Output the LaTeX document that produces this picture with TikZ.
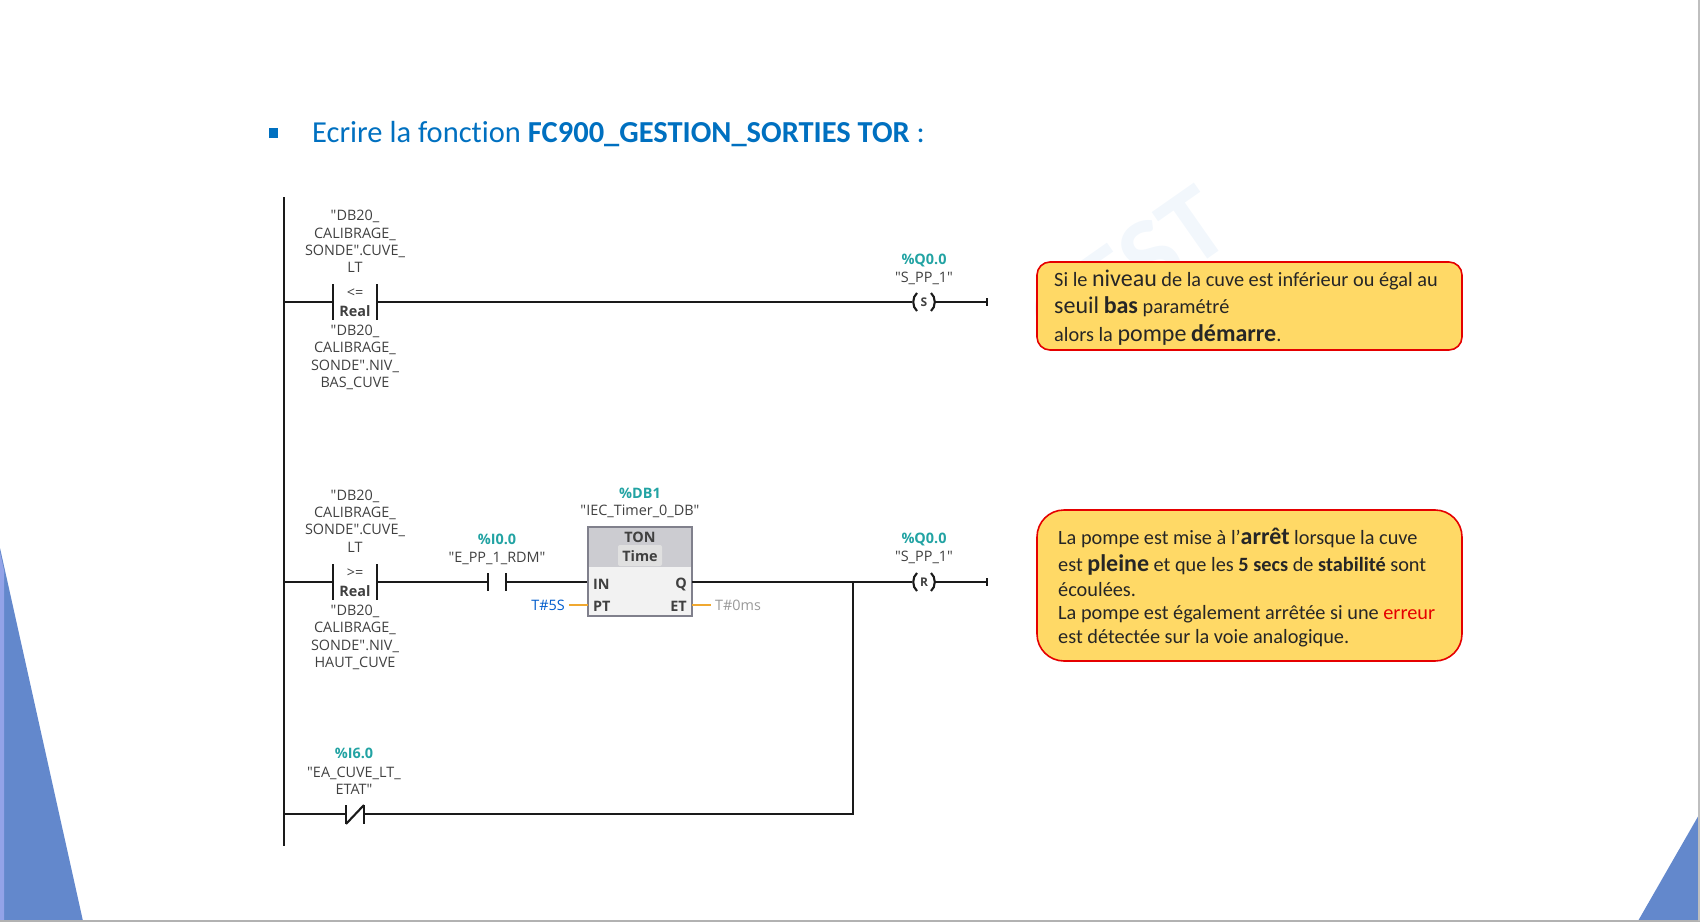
\documentclass[tikz,border=0pt]{standalone}
\usepackage{fontspec}
\setmainfont{Carlito}[Ligatures=NoCommon]
\newfontfamily\ladderfont{Open Sans}
\usetikzlibrary{positioning}
\definecolor{railcol}{HTML}{1A1A1A}
\definecolor{titleblue}{HTML}{0070C0}
\definecolor{tealaddr}{HTML}{22A3A3}
\definecolor{tagcol}{HTML}{404040}
\definecolor{notefill}{HTML}{FFD966}
\definecolor{slideblue}{HTML}{6388CC}
\definecolor{wirepin}{HTML}{F0A830}
\definecolor{markcol}{HTML}{F2F7FC}

\tikzset{
  wire/.style={draw=railcol,line width=2.1pt},
  rail/.style={draw=railcol,line width=2.6pt},
  tag/.style={font=\ladderfont\fontsize{14.4}{17.3}\selectfont,text=tagcol,align=center,inner sep=0pt},
  addr/.style={font=\ladderfont\bfseries\fontsize{14.4}{17}\selectfont,text=tealaddr,inner sep=0pt},
  op/.style={font=\ladderfont\fontsize{14.4}{17}\selectfont,text=tagcol,inner sep=0pt},
  opb/.style={font=\ladderfont\bfseries\fontsize{14.4}{17}\selectfont,text=black!75,inner sep=0pt},
  note/.style={draw=red!90!black,line width=1.6pt,fill=notefill,anchor=north west,inner sep=0pt},
  notetxt/.style={anchor=west,inner sep=0pt,font=\fontsize{20.3}{24}\selectfont,text=black!85},
  pin/.style={draw=wirepin,line width=1.9pt}
}
\newcommand{\bigw}[1]{{\fontsize{24}{24}\selectfont #1}}
\newcommand{\bigb}[1]{{\fontsize{24}{24}\selectfont\bfseries #1}}

\begin{document}
\begin{tikzpicture}[x=1pt,y=-1pt]
\useasboundingbox (0,0) rectangle (1700,923);

%slide decoration
\fill[slideblue] (0,548) -- (83,921) -- (0,921) -- cycle;
\fill[slideblue!75!blue!60!white] (0,552) -- (4,570) -- (4,921) -- (0,921) -- cycle;
\fill[slideblue] (1700,813) -- (1700,921) -- (1638,921) -- cycle;
\draw[gray!60,line width=1.5pt] (0,921) -- (1700,921);
\draw[gray!50,line width=1.2pt] (1699,0) -- (1699,921);

%watermark
\node[rotate=35,inner sep=0pt,text=markcol,font=\bfseries\fontsize{108}{108}\selectfont] (mark) at (1128,272) {CEST};

%title
\fill[titleblue] (269,128) rectangle (278,138);
\node[anchor=west,inner sep=0pt,text=titleblue,font=\fontsize{30.5}{34}\selectfont] (title) at (312,134.5)
  {Ecrire la fonction \textbf{FC900\_GESTION\_SORTIES TOR} :};

%rails
\draw[rail] (284,197) -- (284,846);
\coordinate (r1) at (284,302);
\coordinate (r2) at (284,582);
\coordinate (r3) at (284,814);
\coordinate (busr) at (853,582);
\coordinate (end1) at (987,302);
\coordinate (end2) at (987,582);

%rung 1
\node[tag] (cmpa) at (355,241.5) {"DB20\_\\CALIBRAGE\_\\SONDE".CUVE\_\\LT};
\node[tag] (cmpb) at (355,357.5) {"DB20\_\\CALIBRAGE\_\\SONDE".NIV\_\\BAS\_CUVE};
\node[op] (opa) at (355,293) {<=};
\node[opb] (opc) at (355,311) {Real};
\coordinate (c1l) at (333,302);
\coordinate (c1r) at (377,302);
\draw[wire] (r1) -- (c1l) (c1r) -- (912,302);
\draw[wire] (c1l)+(0,-18) -- +(0,18) (c1r)+(0,-18) -- +(0,18);
\node[addr] (q1) at (924,260.5) {\%Q0.0};
\node[tag] (q1t) at (924,278) {"S\_PP\_1"};
\node[opb,font=\ladderfont\bfseries\fontsize{12}{14}\selectfont] (coil1) at (924,302) {S};
\draw[wire] (917,293) .. controls (912,297) and (912,307) .. (917,311);
\draw[wire] (931,293) .. controls (936,297) and (936,307) .. (931,311);
\draw[wire] (935,302) -- (end1);
\draw[wire] (end1)+(0,-4) -- +(0,4);

%rung 2
\node[tag] (cmpc) at (355,521) {"DB20\_\\CALIBRAGE\_\\SONDE".CUVE\_\\LT};
\node[tag] (cmpd) at (355,637.5) {"DB20\_\\CALIBRAGE\_\\SONDE".NIV\_\\HAUT\_CUVE};
\node[op] (opd) at (355,573) {>=};
\node[opb] (ope) at (355,591) {Real};
\coordinate (c2l) at (333,582);
\coordinate (c2r) at (377,582);
\draw[wire] (r2) -- (c2l) (c2r) -- (488,582) (506,582) -- (588,582);
\draw[wire] (c2l)+(0,-18) -- +(0,18) (c2r)+(0,-18) -- +(0,18);
\draw[wire] (488,573) -- (488,591) (506,573) -- (506,591);
\node[addr] (i0) at (497,539) {\%I0.0};
\node[tag] (i0t) at (497,558) {"E\_PP\_1\_RDM"};

%timer
\node[addr] (db1) at (640,493) {\%DB1};
\node[tag] (db1t) at (640,511) {"IEC\_Timer\_0\_DB"};
\fill[black!5] (588,527) rectangle (692,616);
\fill[blue!10!black!20] (588,527) rectangle (692,567);
\fill[black!12,rounded corners=2pt] (618,545) rectangle (662,566);
\draw[blue!10!black!50,line width=1.2pt] (588,527) rectangle (692,616);
\node[opb] (ton) at (640,537) {TON};
\node[opb] (tim) at (640,556) {Time};
\node[opb,anchor=west] (in) at (593,584) {IN};
\node[opb,anchor=east] (qq) at (687,584) {Q};
\node[opb,anchor=west] (pt) at (593,606) {PT};
\node[opb,anchor=east] (et) at (687,606) {ET};
\draw[pin] (569,605) -- (588,605) (692,605) -- (711,605);
\node[op,text=blue!55!cyan!80!black,anchor=east] (t5) at (565,605) {T\#5S};
\node[op,text=black!40,anchor=west] (t0) at (715,605) {T\#0ms};
\draw[wire] (692,582) -- (912,582);
\node[addr] (q2) at (924,539.5) {\%Q0.0};
\node[tag] (q2t) at (924,557) {"S\_PP\_1"};
\node[opb,font=\ladderfont\bfseries\fontsize{12}{14}\selectfont] (coil2) at (924,582) {R};
\draw[wire] (917,573) .. controls (912,577) and (912,587) .. (917,591);
\draw[wire] (931,573) .. controls (936,577) and (936,587) .. (931,591);
\draw[wire] (935,582) -- (end2);
\draw[wire] (end2)+(0,-4) -- +(0,4);

%rung 3
\node[addr] (i6) at (354,753) {\%I6.0};
\node[tag] (i6t) at (354,780.5) {"EA\_CUVE\_LT\_\\ETAT"};
\draw[wire] (r3) -- (346,814) (364,814) -| (busr);
\draw[wire] (346,805) -- (346,824) (364,805) -- (364,824);
\draw[wire] (346,824) -- (364,805);

%notes
\draw[note,rounded corners=13pt] (1037,262) rectangle (1462,350);
\node[notetxt] (n1a) at (1054,280) {Si le \bigw{niveau} de la cuve est inférieur ou égal au};
\node[notetxt] (n1b) at (1054,307) {\bigw{seuil} \bigb{bas} paramétré};
\node[notetxt] (n1c) at (1054,335) {alors la \bigw{pompe} \bigb{démarre}.};
\draw[note,rounded corners=27pt] (1037,510) rectangle (1462,661);
\node[notetxt] (n2a) at (1058,538) {La pompe est mise à l’\bigb{arrêt} lorsque la cuve};
\node[notetxt] (n2b) at (1058,565) {est \bigb{pleine} et que les \textbf{5 secs} de \textbf{stabilité} sont};
\node[notetxt] (n2c) at (1058,590) {écoulées.};
\node[notetxt] (n2d) at (1058,614) {La pompe est également arrêtée si une \textcolor{red!90!black}{erreur}};
\node[notetxt] (n2e) at (1058,638) {est détectée sur la voie analogique.};
\end{tikzpicture}
\end{document}
